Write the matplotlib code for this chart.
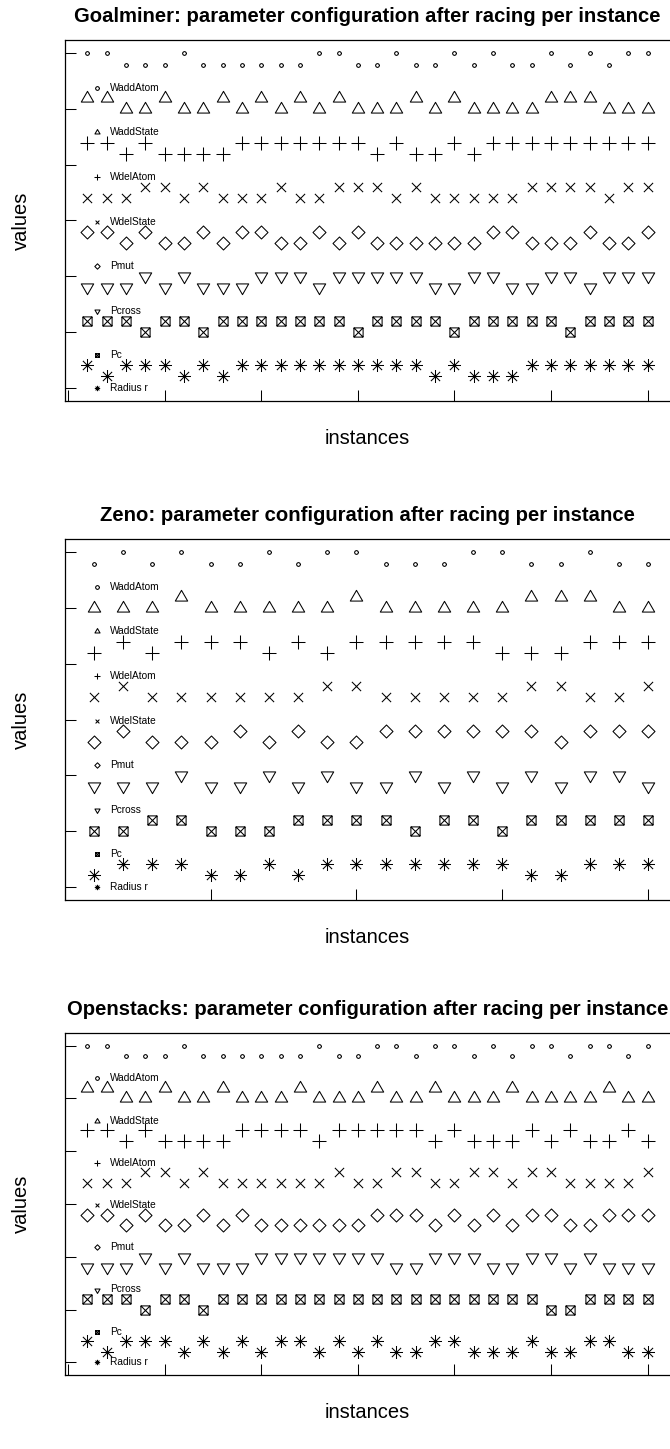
import matplotlib
matplotlib.use("Agg")
import matplotlib.pyplot as plt
import numpy as np
from matplotlib.path import Path
from matplotlib.transforms import blended_transform_factory, offset_copy

plt.rcParams["font.family"] = ["Liberation Sans", "DejaVu Sans"]

# parameter rows, top to bottom
params = ["WaddAtom", "WaddState", "WdelAtom", "WdelState", "Pmut", "Pcross", "Pc", "Radius r"]

# 1 = upper value, 0 = lower value, one entry per instance
goal_waddatom = [1,1,0,0,0,1,0,0,0,0,0,0,1,1,0,0,1,0,0,1,0,1,0,0,1,0,1,0,1,1]
goal_waddstate = [1,1,0,0,1,0,0,1,0,1,0,1,0,1,0,0,0,1,0,1,0,0,0,0,1,1,1,0,0,0]
goal_wdelatom = [1,1,0,1,0,0,0,0,1,1,1,1,1,1,1,0,1,0,0,1,0,1,1,1,1,1,1,1,1,1]
goal_wdelstate = [0,0,0,1,1,0,1,0,0,0,1,0,0,1,1,1,0,1,0,0,0,0,0,1,1,1,1,0,1,1]
goal_pmut = [1,1,0,1,0,0,1,0,1,1,0,0,1,0,1,0,0,0,0,0,0,1,1,0,0,0,1,0,0,1]
goal_pcross = [0,0,0,1,0,1,0,0,0,1,1,1,0,1,1,1,1,1,0,0,1,1,0,0,1,1,0,1,1,1]
goal_pc = [1,1,1,0,1,1,0,1,1,1,1,1,1,1,0,1,1,1,1,0,1,1,1,1,1,0,1,1,1,1]
goal_radius = [1,0,1,1,1,0,1,0,1,1,1,1,1,1,1,1,1,1,0,1,0,0,0,1,1,1,1,1,1,1]

zeno_waddatom = [0,1,0,1,0,0,1,0,1,1,0,0,0,1,1,0,0,1,0,0]
zeno_waddstate = [0,0,0,1,0,0,0,0,0,1,0,0,0,0,0,1,1,1,0,0]
zeno_wdelatom = [0,1,0,1,1,1,0,1,0,1,1,1,1,1,0,0,0,1,1,1]
zeno_wdelstate = [0,1,0,0,0,0,0,0,1,1,0,0,0,0,0,1,1,0,0,1]
zeno_pmut = [0,1,0,0,0,1,0,1,0,0,1,1,1,1,1,1,0,1,1,1]
zeno_pcross = [0,0,0,1,0,0,1,0,1,0,0,1,0,1,0,1,0,1,1,0]
zeno_pc = [0,0,1,1,0,0,0,1,1,1,1,0,1,1,0,1,1,1,1,1]
zeno_radius = [0,1,1,1,0,0,1,0,1,1,1,1,1,1,1,0,0,1,1,1]

open_waddatom = [1,1,0,0,0,1,0,0,0,0,0,0,1,0,0,1,1,0,1,1,0,1,0,1,1,0,1,1,0,1]
open_waddstate = [1,1,0,0,1,0,0,1,0,0,0,1,0,0,0,1,0,0,1,0,0,0,1,0,0,0,0,1,0,0]
open_wdelatom = [1,1,0,1,0,0,0,0,1,1,1,1,0,1,1,1,1,1,0,1,0,0,0,1,0,1,0,0,1,0]
open_wdelstate = [0,0,0,1,1,0,1,0,0,0,0,0,0,1,0,0,1,1,0,0,1,1,0,1,1,0,0,0,0,1]
open_pmut = [1,1,0,1,0,0,1,0,1,0,0,0,0,0,0,1,1,1,0,1,0,1,0,1,1,0,0,1,1,1]
open_pcross = [0,0,0,1,0,1,0,0,0,1,1,1,1,1,1,1,0,0,1,1,1,0,0,1,1,0,1,0,0,0]
open_pc = [1,1,1,0,1,1,0,1,1,1,1,1,1,1,1,1,1,1,1,1,1,1,1,1,0,0,1,1,1,1]
open_radius = [1,0,1,1,1,0,1,0,1,0,1,1,0,1,0,1,0,0,1,1,0,0,0,1,0,0,1,1,0,0]

titles = [
    "Goalminer: parameter configuration after racing per instance",
    "Zeno: parameter configuration after racing per instance",
    "Openstacks: parameter configuration after racing per instance",
]
panels = [
    [goal_waddatom, goal_waddstate, goal_wdelatom, goal_wdelstate,
     goal_pmut, goal_pcross, goal_pc, goal_radius],
    [zeno_waddatom, zeno_waddstate, zeno_wdelatom, zeno_wdelstate,
     zeno_pmut, zeno_pcross, zeno_pc, zeno_radius],
    [open_waddatom, open_waddstate, open_wdelatom, open_wdelstate,
     open_pmut, open_pcross, open_pc, open_radius],
]


def seg_path(segs):
    verts, codes = [], []
    for a, b in segs:
        verts += [a, b]
        codes += [Path.MOVETO, Path.LINETO]
    return Path(verts, codes)


def poly_path(pts):
    return Path(pts + [pts[0]], [Path.MOVETO] + [Path.LINETO] * (len(pts) - 1) + [Path.CLOSEPOLY])


s2 = np.sqrt(2)
# R-like pch shapes, in units of the symbol radius
tri_up = poly_path([(0, 1.5551), (1.3468, -0.7776), (-1.3468, -0.7776)])
tri_dn = poly_path([(0, -1.5551), (1.3468, 0.7776), (-1.3468, 0.7776)])
diamond = poly_path([(0, s2), (s2, 0), (0, -s2), (-s2, 0)])
plus = seg_path([((-s2, 0), (s2, 0)), ((0, -s2), (0, s2))])
cross = seg_path([((-1, -1), (1, 1)), ((-1, 1), (1, -1))])
boxx = Path(
    [(-1, -1), (1, -1), (1, 1), (-1, 1), (-1, -1), (-1, -1), (1, 1), (-1, 1), (1, -1)],
    [Path.MOVETO, Path.LINETO, Path.LINETO, Path.LINETO, Path.CLOSEPOLY,
     Path.MOVETO, Path.LINETO, Path.MOVETO, Path.LINETO],
)
aster = seg_path([((-s2, 0), (s2, 0)), ((0, -s2), (0, s2)),
                  ((-1, -1), (1, 1)), ((-1, 1), (1, -1))])
circle = seg_path([((np.cos(t), np.sin(t)), (np.cos(t + 0.2), np.sin(t + 0.2)))
                   for t in np.arange(0, 2 * np.pi, 0.2)])

# marker shape and radius (px) per row, top to bottom
markers = [circle, tri_up, plus, cross, diamond, tri_dn, boxx, aster]
radius_px = [1.9, 4.6, 4.6, 4.6, 4.6, 4.6, 4.6, 4.6]
legend_px = 1.9


def msize(path, r_px):
    return 2 * np.max(np.abs(path.vertices)) * r_px * 0.72


W, H = 670, 1449
fig = plt.figure(figsize=(W / 100, H / 100), dpi=100)

boxes = [(40, 401), (539, 900), (1033, 1375)]
left_px, right_px = 64.8, 670.2

for title, rows, (top, bottom) in zip(titles, panels, boxes):
    ax = fig.add_axes([left_px / W, 1 - bottom / H, (right_px - left_px) / W, (bottom - top) / H])
    n = len(rows[0])
    x = np.arange(1, n + 1)
    pad = 0.04 * (n - 1)
    ax.set_xlim(1 - pad, n + pad)
    ax.set_ylim(-0.24, 6.24)

    trans = blended_transform_factory(ax.transAxes, ax.transData)
    for k, (name, levels, mk, rp) in enumerate(zip(params, rows, markers, radius_px)):
        r = 7 - k
        y = 0.8 * r + 0.2 + 0.2 * np.array(levels)
        ax.plot(x, y, linestyle="none", marker=mk, ms=msize(mk, rp),
                mfc="none", mec="black", mew=0.75)
        ly = max(0.8 * r - 0.22, 0.0)
        ax.plot([0.0524], [ly], transform=trans, linestyle="none", marker=mk,
                ms=msize(mk, legend_px), mfc="none", mec="black", mew=0.75)
        ax.text(0.0747, ly, name, transform=trans, va="center", ha="left", fontsize=7.3)

    ax.set_xticks(np.arange(0, n + 1, 5))
    ax.set_yticks(np.arange(0, 7))
    ax.tick_params(direction="in", length=8, width=0.75, labelbottom=False, labelleft=False)
    ax.spines["right"].set_visible(False)
    for s in ["top", "left", "bottom"]:
        ax.spines[s].set_linewidth(0.9)

    ax.text(0.5, 1, title, transform=offset_copy(ax.transAxes, fig, y=23.5, units="dots"),
            ha="center", va="center", fontsize=14.6, fontweight="bold")
    ax.text(0.5, 0, "instances", transform=offset_copy(ax.transAxes, fig, y=-38, units="dots"),
            ha="center", va="center", fontsize=14.5)
    ax.text(21.7 / W, 1 - (top + bottom) / 2 / H, "values", transform=fig.transFigure,
            rotation=90, ha="center", va="center", fontsize=14.5)

fig.savefig("out.png", dpi=100)
